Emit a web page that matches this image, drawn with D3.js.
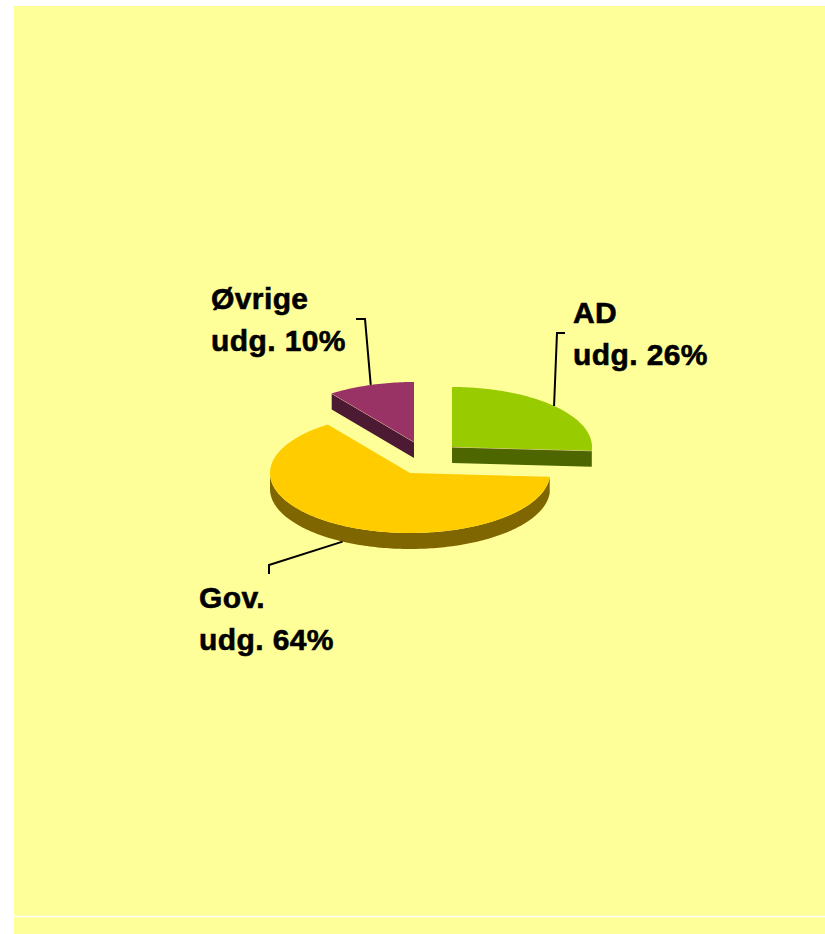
<!DOCTYPE html>
<html>
<head>
<meta charset="utf-8">
<script src="https://cdn.jsdelivr.net/npm/d3@7"></script>
<style>
  body { margin: 0; background: #fff; }
  text { font-family: "Liberation Sans", Arial, sans-serif; font-weight: bold; font-size: 30px; fill: #000; stroke: #000; stroke-width: 0.6px; letter-spacing: 0.4px; }
</style>
</head>
<body>
<div id="chart"></div>
<script>
// chart data
const categories = ["AD", "Gov.", "Øvrige"];
const values = [26, 64, 10];
const labelLines = [["AD", "udg. 26%"], ["Gov.", "udg. 64%"], ["Øvrige", "udg. 10%"]];
const topColors = ["#99cc00", "#ffcc00", "#993366"];
const sideColors = ["#4d6600", "#806600", "#4d1a33"];

const width = 825, height = 934;
const cx = 410, cy = 473, rx = 140, ry = 60, depth = 16;

// explode offsets per slice and label placement
const offsets = [[42, -26], [0, 0], [4, -31]];
const labelPos = [[573, 323], [199, 608], [211, 309]];
const elbows = [[[565, 333], [557, 333]], [[269, 574], [269, 565]], [[356, 319], [365, 319]]];

const svg = d3.select("#chart")
  .append("svg")
  .attr("width", width)
  .attr("height", height);

svg.append("rect")
  .attr("x", 14).attr("y", 6)
  .attr("width", width - 14).attr("height", height - 6)
  .attr("fill", "#ffff99");

svg.append("line")
  .attr("x1", 14).attr("x2", width)
  .attr("y1", 916.5).attr("y2", 916.5)
  .attr("stroke", "#fff").attr("stroke-width", 1.5);

const pie = d3.pie().sort(null).value(d => d)(values);

function pt(c, a, dy) {
  return [c[0] + rx * Math.sin(a), c[1] - ry * Math.cos(a) + (dy || 0)];
}

function arcPoints(c, a0, a1, dy) {
  const n = Math.max(2, Math.ceil(Math.abs(a1 - a0) / 0.02));
  return d3.range(n + 1).map(i => pt(c, a0 + (a1 - a0) * i / n, dy));
}

const line = d3.line();

// back to front: Øvrige, AD, Gov
const order = [2, 0, 1];

order.forEach(i => {
  const p = pie[i];
  const c = [cx + offsets[i][0], cy + offsets[i][1]];
  const g = svg.append("g");

  // outer wall (front half only)
  const w0 = Math.max(p.startAngle, Math.PI / 2);
  const w1 = Math.min(p.endAngle, 3 * Math.PI / 2);
  if (w1 > w0) {
    const pts = arcPoints(c, w0, w1, 0).concat(arcPoints(c, w1, w0, depth));
    g.append("path").attr("d", line(pts) + "Z").attr("fill", sideColors[i]);
  }

  // radial faces
  [[p.startAngle, Math.sin(p.startAngle) < -0.01], [p.endAngle, Math.sin(p.endAngle) > 0.01]]
    .forEach(([a, vis]) => {
      if (!vis) return;
      const r = pt(c, a, 0);
      const pts = [c, r, [r[0], r[1] + depth], [c[0], c[1] + depth]];
      g.append("path").attr("d", line(pts) + "Z").attr("fill", sideColors[i]);
      // light edge highlight
      g.append("path").attr("d", line([c, r]))
        .attr("stroke", "#f0c8a0").attr("stroke-width", 1).attr("fill", "none");
    });

  // top face
  const top = [c].concat(arcPoints(c, p.startAngle, p.endAngle, 0));
  g.append("path").attr("d", line(top) + "Z").attr("fill", topColors[i]);
});

// leader lines and labels
pie.forEach((p, i) => {
  const c = [cx + offsets[i][0], cy + offsets[i][1]];
  const mid = (p.startAngle + p.endAngle) / 2;
  const front = Math.cos(mid) < 0;
  const anchor = pt(c, mid, front ? depth : 0);
  svg.append("path")
    .attr("d", line(elbows[i].concat([anchor])))
    .attr("fill", "none")
    .attr("stroke", "#000")
    .attr("stroke-width", 2);

  const t = svg.append("text")
    .attr("x", labelPos[i][0])
    .attr("y", labelPos[i][1]);
  labelLines[i].forEach((s, k) => {
    t.append("tspan")
      .attr("x", labelPos[i][0])
      .attr("dy", k === 0 ? 0 : 42)
      .text(s);
  });
});
</script>
</body>
</html>
